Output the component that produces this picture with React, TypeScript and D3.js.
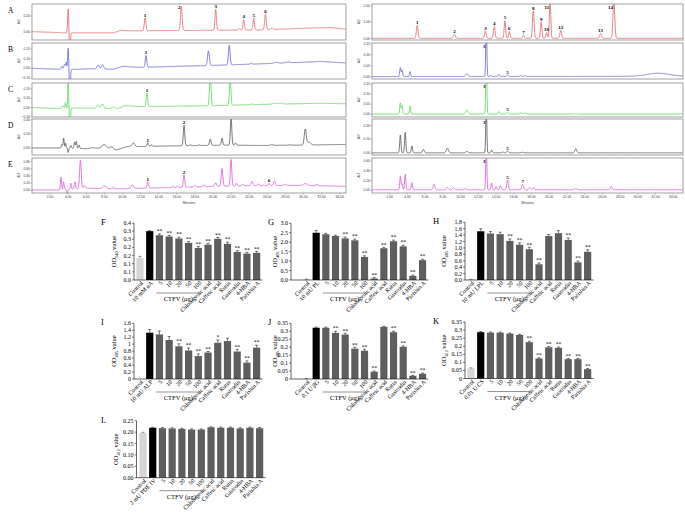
import * as d3 from "d3"

type Pt = [number, number]
type Peak = [number, number, number, string?] // time (min), height (AU), width (min), label

// ---------- HPLC chromatograms (left column) ----------
const leftBaseA: Pt[] = [[0, 0.005], [3.5, -0.01], [9, -0.01], [9.8, 0.02], [11, 0.015], [25, 0.025], [31, 0.05], [33, 0.055], [34.7, 0.035]]
const leftPeaksA: Peak[] = [[4.0, 0.3, 0.06], [4.18, -0.28, 0.06], [12.5, 0.16, 0.09, "1"], [16.5, 0.3, 0.09, "2"], [20.3, 0.26, 0.08, "3"], [22.9, 0.02, 0.1], [23.4, 0.13, 0.08, "4"], [24.5, 0.15, 0.08, "5"], [25.8, 0.19, 0.09, "6"], [26.5, 0.02, 0.1]]
const leftBaseB: Pt[] = [[0, 0], [3, -0.01], [5, -0.01], [6.5, -0.005], [9, -0.01], [10, 0.02], [12, 0.01], [20, 0.03], [25, 0.045], [32, 0.07], [34.7, 0.055]]
const leftPeaksB: Peak[] = [[3.3, 0.03, 0.08], [3.6, 0.05, 0.08], [3.78, 0.07, 0.05], [4.0, 0.22, 0.06], [4.18, -0.3, 0.06], [7.3, 0.04, 0.12], [7.8, 0.045, 0.12], [12.6, 0.12, 0.08, "1"], [19.5, 0.15, 0.1], [21.8, 0.2, 0.09], [24.2, 0.01, 0.1], [27, 0.01, 0.2], [28.3, 0.01, 0.2]]
const leftBaseC: Pt[] = [[0, 0], [3, -0.01], [5, -0.005], [9.5, -0.01], [10.3, 0.02], [12, 0.01], [20, 0.02], [26, 0.035], [32, 0.045], [34.7, 0.04]]
const leftPeaksC: Peak[] = [[3.4, 0.03, 0.08], [3.7, 0.06, 0.06], [4.0, 0.3, 0.05], [4.18, -0.3, 0.06], [7.3, 0.035, 0.12], [7.8, 0.045, 0.12], [9.0, 0.015, 0.15], [12.7, 0.14, 0.08, "1"], [19.7, 0.3, 0.09], [21.9, 0.3, 0.08], [24.3, 0.008, 0.1], [26.8, 0.01, 0.2], [27.5, 0.008, 0.2]]
const leftBaseD: Pt[] = [[0, 0], [3, 0], [6, -0.01], [7, 0], [9.3, -0.03], [10.5, 0.02], [12, 0.02], [16, 0.03], [22, 0.04], [25, 0.035], [30, 0.04], [34.7, 0.05]]
const leftPeaksD: Peak[] = [[3.3, 0.05, 0.06], [3.5, 0.14, 0.06], [3.72, 0.07, 0.05], [4.0, -0.06, 0.05], [4.3, 0.04, 0.06], [4.7, 0.09, 0.06], [4.9, 0.1, 0.06], [5.2, 0.05, 0.06], [6.6, 0.01, 0.1], [8.0, 0.06, 0.25], [8.8, 0.04, 0.2], [11.2, 0.05, 0.15], [12.8, 0.05, 0.08, "1"], [13.2, 0.02, 0.08], [16.8, 0.29, 0.08, "2"], [17.5, 0.01, 0.1], [18.5, 0.01, 0.1], [19.7, 0.09, 0.09], [21.0, 0.1, 0.08], [22.0, 0.38, 0.08], [22.5, 0.03, 0.08], [26.5, 0.01, 0.15], [28.5, 0.005, 0.15], [30.2, 0.22, 0.11], [30.6, 0.04, 0.2]]
const leftBaseE: Pt[] = [[0, 0], [3, 0], [6, 0.05], [9, 0.03], [12, 0.05], [16, 0.07], [20, 0.1], [24, 0.12], [30, 0.13], [34.7, 0.1]]
const leftPeaksE: Peak[] = [[3.2, 0.36, 0.06], [3.5, 0.22, 0.06], [3.9, -0.12, 0.05], [4.3, 0.17, 0.06], [4.75, 0.2, 0.07], [5.35, 0.8, 0.09], [5.8, 0.08, 0.1], [8.0, 0.08, 0.2], [9.0, 0.03, 0.15], [11.1, 0.1, 0.12], [12.8, 0.17, 0.08, "1"], [15.6, 0.03, 0.1], [16.1, 0.03, 0.1], [16.8, 0.35, 0.08, "2"], [18.0, 0.05, 0.1], [19.0, 0.05, 0.1], [20.3, 0.1, 0.09], [21.0, 0.5, 0.09], [22.0, 0.75, 0.08], [22.6, 0.08, 0.08], [23.3, 0.04, 0.1], [24.3, 0.12, 0.1], [25.0, 0.05, 0.1], [26.2, 0.06, 0.1, "6"], [26.8, 0.13, 0.1], [28.0, 0.03, 0.15], [30.1, 0.05, 0.12], [30.4, 0.04, 0.12], [31.5, 0.03, 0.15]]

// ---------- HPLC chromatograms (right column) ----------
const rightBaseA: Pt[] = [[0, 0], [35.1, 0]]
const rightPeaksA: Peak[] = [[5.1, 0.77, 0.09, "1"], [9.3, 0.25, 0.11, "2"], [12.8, 0.45, 0.09, "3"], [13.8, 0.72, 0.09, "4"], [15.0, 1.07, 0.08, "5"], [15.5, 0.42, 0.08, "6"], [17.1, 0.2, 0.09, "7"], [18.2, 1.65, 0.09, "8"], [19.1, 1.0, 0.08, "9"], [19.7, 0.35, 0.08, "10"], [20.1, 2.3, 0.08, "11"], [21.3, 0.5, 0.09, "12"], [25.8, 0.3, 0.1, "13"], [27.3, 2.3, 0.1, "14"]]
const rightBaseB: Pt[] = [[0, 0.001], [35.1, 0.002]]
const rightPeaksB: Peak[] = [[3.2, 0.04, 0.07], [3.4, 0.028, 0.06], [4.3, 0.022, 0.06], [10.7, 0.013, 0.12], [12.9, 0.25, 0.06, "3"], [13.4, 0.004, 0.08], [14.3, 0.01, 0.07], [15.3, 0.006, 0.1, "5"], [16.8, 0.004, 0.1], [17.3, 0.003, 0.1], [32.3, 0.014, 1.3]]
const rightBaseC: Pt[] = [[0, 0.001], [35.1, 0.001]]
const rightPeaksC: Peak[] = [[3.2, 0.055, 0.07], [3.4, 0.04, 0.06], [4.3, 0.04, 0.06], [10.7, 0.02, 0.12], [12.9, 0.3, 0.06, "3"], [14.3, 0.012, 0.07], [15.3, 0.007, 0.1, "5"], [16.8, 0.006, 0.1], [17.3, 0.005, 0.1], [23, 0.002, 0.2]]
const rightBaseD: Pt[] = [[0, 0.001], [35.1, 0.001]]
const rightPeaksD: Peak[] = [[3.2, 0.13, 0.07], [3.75, 0.15, 0.07], [4.5, 0.05, 0.07], [5.8, 0.025, 0.1], [8.5, 0.035, 0.12], [10.7, 0.01, 0.12], [12.9, 0.35, 0.06, "3"], [13.5, 0.02, 0.07], [14.8, 0.005, 0.1], [15.3, 0.012, 0.1, "5"], [17.0, 0.004, 0.1], [23.0, 0.03, 0.1]]
const rightBaseE: Pt[] = [[0, 0.005], [35.1, 0.005]]
const rightPeaksE: Peak[] = [[3.2, 0.28, 0.07], [3.4, 0.12, 0.06], [3.75, 0.32, 0.07], [4.5, 0.15, 0.07], [7.0, 0.11, 0.1], [8.5, 0.05, 0.1], [9.2, 0.05, 0.1], [10.5, 0.02, 0.15], [12.9, 0.9, 0.06, "3"], [13.5, 0.14, 0.07], [14.0, 0.07, 0.07], [14.5, 0.09, 0.08], [15.3, 0.2, 0.09, "5"], [17.0, 0.11, 0.1, "7"], [17.8, 0.05, 0.1], [18.2, 0.04, 0.1], [23.0, 0.03, 0.12], [27.0, 0.07, 0.1]]

const leftDomains: Pt[] = [[-0.1, 0.35], [-0.11, 0.26], [-0.1, 0.26], [-0.1, 0.41], [-0.085, 0.9]]
const leftTicks = [[0, 0.2], [-0.1, 0, 0.1, 0.2], [-0.1, 0, 0.1, 0.2], [0, 0.2, 0.4], [0, 0.2, 0.4, 0.6, 0.8]]
const rightDomains: Pt[] = [[-0.1, 2.08], [-0.01, 0.152], [-0.014, 0.155], [-0.015, 0.248], [-0.06, 0.66]]
const rightTicks = [[0, 1, 2], [0, 0.05, 0.1, 0.15], [0, 0.05, 0.1, 0.15], [0, 0.1, 0.2], [0, 0.2, 0.4, 0.6]]
const timeTicks = d3.range(2, 35, 2)
const traceLetters = ["A", "B", "C", "D", "E"]
const traceColors = ["#e26464", "#6262d4", "#5cd65c", "#555555", "#d955d9"]

// ---------- bar charts ----------
const doses = ["5", "10", "20", "50", "100"]
const compounds = ["Chlorogenic acid", "Caffeic acid", "Rutin", "Gastrodin", "4-HBA", "Parishin A"]

const valuesF = [0.135, 0.3, 0.275, 0.267, 0.255, 0.228, 0.197, 0.217, 0.253, 0.222, 0.172, 0.162, 0.167]
const errorsF = [0.01, 0.003, 0.008, 0.007, 0.008, 0.008, 0.008, 0.008, 0.008, 0.01, 0.008, 0.008, 0.008]
const sigF = ["", "", "**", "**", "**", "**", "**", "**", "**", "**", "**", "**", "**"]
const valuesG = [0.04, 2.5, 2.42, 2.33, 2.2, 2.1, 1.22, 0.08, 1.68, 2.05, 1.78, 0.22, 1.05]
const errorsG = [0.01, 0.12, 0.05, 0.04, 0.07, 0.06, 0.06, 0.05, 0.05, 0.06, 0.06, 0.04, 0.05]
const sigG = ["", "", "", "", "**", "**", "**", "**", "**", "**", "**", "**", "**"]
const valuesH = [0.02, 1.52, 1.45, 1.43, 1.22, 1.1, 0.96, 0.49, 1.37, 1.46, 1.25, 0.55, 0.88]
const errorsH = [0.005, 0.08, 0.06, 0.06, 0.06, 0.06, 0.06, 0.04, 0.05, 0.08, 0.06, 0.04, 0.06]
const sigH = ["", "", "", "", "**", "**", "**", "**", "", "", "**", "**", "**"]
const valuesI = [0, 1.33, 1.28, 1.12, 0.94, 0.82, 0.66, 0.76, 1.04, 1.09, 0.79, 0.47, 0.9]
const errorsI = [0, 0.09, 0.1, 0.1, 0.07, 0.07, 0.06, 0.03, 0.08, 0.08, 0.06, 0.05, 0.07]
const sigI = ["", "", "", "", "**", "**", "**", "**", "*", "", "**", "**", "**"]
const valuesJ = [0.002, 0.322, 0.322, 0.29, 0.279, 0.191, 0.178, 0.046, 0.328, 0.294, 0.202, 0.02, 0.033]
const errorsJ = [0.001, 0.004, 0.004, 0.01, 0.008, 0.008, 0.008, 0.004, 0.003, 0.006, 0.006, 0.003, 0.003]
const sigJ = ["", "", "", "**", "**", "**", "**", "**", "", "**", "**", "**", "**"]
const valuesK = [0.063, 0.287, 0.284, 0.284, 0.278, 0.27, 0.225, 0.124, 0.193, 0.19, 0.12, 0.12, 0.058]
const errorsK = [0.003, 0.004, 0.004, 0.004, 0.004, 0.004, 0.006, 0.004, 0.005, 0.005, 0.004, 0.004, 0.004]
const sigK = ["", "", "", "", "", "", "**", "**", "**", "**", "**", "**", "**"]
const valuesL = [0.196, 0.219, 0.217, 0.216, 0.214, 0.211, 0.211, 0.221, 0.219, 0.219, 0.216, 0.219, 0.217]
const errorsL = [0.003, 0.002, 0.003, 0.003, 0.003, 0.003, 0.003, 0.002, 0.003, 0.003, 0.003, 0.003, 0.003]
const sigL = ["", "", "", "", "", "", "", "", "", "", "", "", ""]

const ticks005 = d3.range(0, 0.351, 0.05)
const labelsF = ["0.0", "0.1", "0.1", "0.2", "0.2", "0.3", "0.3", "0.4"]
const ticksG = d3.range(0, 3.01, 0.5)
const ticksH = d3.range(0, 1.81, 0.2)
const ticksI = d3.range(0, 1.61, 0.2)
const ticksL = d3.range(0, 0.251, 0.05)

const serif = "'Liberation Serif', 'Times New Roman', serif"
const sans = "'Liberation Sans', Arial, sans-serif"

function Chromatogram({ x0, x1, tMax, top, bottom, domain, ticks, color, base, peaks, letter, showTime, clipId }: any) {
  const x = d3.scaleLinear().domain([0, tMax]).range([x0, x1])
  const y = d3.scaleLinear().domain(domain).range([bottom, top])
  const baseAt = d3.scaleLinear().domain(base.map((d: Pt) => d[0])).range(base.map((d: Pt) => d[1])).clamp(true)
  const signal = (t: number) =>
    baseAt(t) + d3.sum(peaks as Peak[], (p) => p[1] * Math.exp(-0.5 * ((t - p[0]) / p[2]) ** 2))
  const pts = d3.range(0, tMax, 0.02).map((t) => [t, signal(t)] as Pt)
  const line = d3.line<Pt>().x((d) => x(d[0])).y((d) => y(d[1]))
  const fmt = d3.format(".2f")
  return (
    <g>
      <defs>
        <clipPath id={clipId}>
          <rect x={x0} y={top} width={x1 - x0} height={bottom - top} />
        </clipPath>
      </defs>
      <path d={line(pts) || ""} fill="none" stroke={color} strokeWidth={0.8} clipPath={`url(#${clipId})`} />
      <rect x={x0} y={top} width={x1 - x0} height={bottom - top} fill="none" stroke="#8a8a8a" strokeWidth={0.8} />
      {ticks.map((t: number) => (
        <g key={t}>
          <line x1={x0 - 1.5} x2={x0} y1={y(t)} y2={y(t)} stroke="#777" strokeWidth={0.5} />
          <text x={x0 - 2} y={y(t) + 1.2} fontSize={3.4} fontFamily={sans} textAnchor="end" fill="#444">{fmt(t)}</text>
        </g>
      ))}
      <text transform={`translate(${x0 - 12},${(top + bottom) / 2}) rotate(-90)`} fontSize={3.4} fontFamily={sans} textAnchor="middle" fill="#444">AU</text>
      {letter && <text x={8} y={top + 9} fontSize={7.5} fontFamily={serif}>{letter}</text>}
      {(peaks as Peak[]).filter((p) => p[3]).map((p) => {
        const py = y(signal(p[0]))
        const clamped = py < top + 5
        return (
          <text key={p[3]} x={clamped ? x(p[0]) - 0.8 : x(p[0])} y={clamped ? top + 5 : py - 1.3}
            fontSize={5} fontWeight="bold" fontFamily={serif} textAnchor={clamped ? "end" : "middle"}>{p[3]}</text>
        )
      })}
      {showTime && (
        <g>
          {timeTicks.map((t) => (
            <g key={t}>
              <line x1={x(t)} x2={x(t)} y1={bottom} y2={bottom + 1.5} stroke="#777" strokeWidth={0.5} />
              <text x={x(t)} y={bottom + 5.3} fontSize={3.4} fontFamily={sans} textAnchor="middle" fill="#444">{fmt(t)}</text>
            </g>
          ))}
          <text x={(x0 + x1) / 2} y={bottom + 10.5} fontSize={3.6} fontFamily={sans} textAnchor="middle" fill="#444">Minutes</text>
        </g>
      )}
    </g>
  )
}

function BarPanel({ letter, values, errors, sig, pc, ticks, tickLabels, yMax, y0, yTop, axisX, first, step, sub, yLabelX, letterX }: any) {
  const cats = ["Control", pc, ...doses, ...compounds]
  const x = d3.scaleBand().domain(cats).range([first - step / 2, first - step / 2 + cats.length * step]).paddingInner(0.26).paddingOuter(0.13)
  const y = d3.scaleLinear().domain([0, yMax]).range([y0, yTop])
  const cx = (c: string) => (x(c) || 0) + x.bandwidth() / 2
  const fill = (i: number) => (i === 0 ? "#d6d6d6" : i === 1 ? "#000" : "#5e5e5e")
  const cLeft = cx("5") - 3
  const cRight = cx("100") + 2
  return (
    <g fontFamily={serif}>
      <text x={letterX} y={yTop + 2} fontSize={8.5}>{letter}</text>
      {cats.map((c, i) => (
        <g key={c}>
          <rect x={x(c)} y={y(values[i])} width={x.bandwidth()} height={y0 - y(values[i])} fill={fill(i)} />
          {errors[i] > 0 && (
            <g stroke={i === 0 ? "#555" : "#222"} strokeWidth={0.6}>
              <line x1={cx(c)} x2={cx(c)} y1={y(values[i])} y2={y(values[i] + errors[i])} />
              <line x1={cx(c) - 1.5} x2={cx(c) + 1.5} y1={y(values[i] + errors[i])} y2={y(values[i] + errors[i])} />
            </g>
          )}
          {sig[i] && (
            <text x={cx(c)} y={y(values[i] + errors[i]) - 0.8} fontSize={5.5} textAnchor="middle">{sig[i]}</text>
          )}
          <text transform={`translate(${cx(c) + 3.5},${y0 + 3.5}) rotate(-45)`} fontSize={6} textAnchor="end">{c}</text>
        </g>
      ))}
      <line x1={axisX} x2={axisX} y1={y0} y2={y(yMax)} stroke="#000" strokeWidth={0.6} />
      <line x1={axisX} x2={first - step / 2 + cats.length * step + 1} y1={y0} y2={y0} stroke="#000" strokeWidth={0.6} />
      {ticks.map((t: number, i: number) => (
        <g key={i}>
          <line x1={axisX - 2} x2={axisX} y1={y(t)} y2={y(t)} stroke="#000" strokeWidth={0.5} />
          <text x={axisX - 3} y={y(t) + 2} fontSize={6} textAnchor="end">{tickLabels[i]}</text>
        </g>
      ))}
      <line x1={cLeft} x2={cRight} y1={y0 + 13} y2={y0 + 13} stroke="#7a7a7a" strokeWidth={0.8} />
      <text x={(cLeft + cRight) / 2} y={y0 + 21} fontSize={6.5} textAnchor="middle">CTFV (μg)</text>
      <text transform={`translate(${yLabelX},${(y0 + y(yMax)) / 2}) rotate(-90)`} fontSize={6.5} textAnchor="middle">
        OD<tspan fontSize={4.2} dy={1.5}>{sub}</tspan><tspan dy={-1.5}> value</tspan>
      </text>
    </g>
  )
}

const fmtGeneral = (t: number) => String(+t.toFixed(2))

export default function App() {
  const leftBases = [leftBaseA, leftBaseB, leftBaseC, leftBaseD, leftBaseE]
  const leftPeaks = [leftPeaksA, leftPeaksB, leftPeaksC, leftPeaksD, leftPeaksE]
  const rightBases = [rightBaseA, rightBaseB, rightBaseC, rightBaseD, rightBaseE]
  const rightPeaks = [rightPeaksA, rightPeaksB, rightPeaksC, rightPeaksD, rightPeaksE]
  const tops = [4, 43, 83, 119, 158]
  const bottoms = [40, 79, 117, 155, 193]

  const col1 = { axisX: 134, first: 140, step: 9.72, yLabelX: 116, letterX: 101 }
  const col2 = { axisX: 291, first: 306.5, step: 9.67, yLabelX: 277, letterX: 268 }
  const col3 = { axisX: 465, first: 471, step: 9.72, yLabelX: 446, letterX: 433 }
  const row1 = { y0: 280 }
  const row2 = { y0: 379 }

  return (
    <svg width={685} height={518} style={{ position: "absolute", left: 0, top: 0, background: "#fff" }}>
      {traceLetters.map((l, i) => (
        <g key={l}>
          <Chromatogram clipId={`cl${i}`} x0={32} x1={346} tMax={34.7} top={tops[i]} bottom={bottoms[i]}
            domain={leftDomains[i]} ticks={leftTicks[i]} color={traceColors[i]} base={leftBases[i]} peaks={leftPeaks[i]}
            letter={l} showTime={i === 4} />
          <Chromatogram clipId={`cr${i}`} x0={372} x1={683} tMax={35.1} top={tops[i]} bottom={bottoms[i]}
            domain={rightDomains[i]} ticks={rightTicks[i]} color={traceColors[i]} base={rightBases[i]} peaks={rightPeaks[i]}
            showTime={i === 4} />
        </g>
      ))}
      <BarPanel letter="F" values={valuesF} errors={errorsF} sig={sigF} pc="10 mM uA" ticks={ticks005} tickLabels={labelsF}
        yMax={0.35} yTop={223} sub="540" {...col1} {...row1} />
      <BarPanel letter="G" values={valuesG} errors={errorsG} sig={sigG} pc="10 mU PL" ticks={ticksG} tickLabels={ticksG.map(d3.format(".1f"))}
        yMax={3.0} yTop={223.3} sub="405" {...col2} {...row1} />
      <BarPanel letter="H" values={valuesH} errors={errorsH} sig={sigH} pc="10 mU LPL" ticks={ticksH} tickLabels={ticksH.map(d3.format(".1f"))}
        yMax={1.8} yTop={222.3} sub="405" {...col3} {...row1} />
      <BarPanel letter="I" values={valuesI} errors={errorsI} sig={sigI} pc="10 mU ALP" ticks={ticksI} tickLabels={ticksI.map(fmtGeneral)}
        yMax={1.6} yTop={323.3} sub="405" {...col1} {...row2} />
      <BarPanel letter="J" values={valuesJ} errors={errorsJ} sig={sigJ} pc="0.1 U βG" ticks={ticks005} tickLabels={ticks005.map(fmtGeneral)}
        yMax={0.35} yTop={323.3} sub="405" {...col2} {...row2} />
      <BarPanel letter="K" values={valuesK} errors={errorsK} sig={sigK} pc="0.01 U CS" ticks={ticks005} tickLabels={ticks005.map(fmtGeneral)}
        yMax={0.35} yTop={322} sub="412" {...col3} {...row2} y0={378.5} />
      <BarPanel letter="L" values={valuesL} errors={errorsL} sig={sigL} pc="2 mU PDE IV" ticks={ticksL} tickLabels={ticksL.map(d3.format(".2f"))}
        yMax={0.25} yTop={420.7} sub="412" axisX={136.5} first={143} step={9.72} yLabelX={118} letterX={101} y0={477.7} />
    </svg>
  )
}
